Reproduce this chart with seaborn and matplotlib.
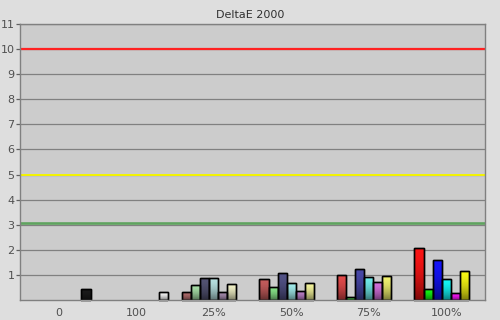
import numpy as np
import pandas as pd
import matplotlib
matplotlib.use("Agg")
import matplotlib.pyplot as plt
from matplotlib.patches import Rectangle
import seaborn as sns

# ---- data ----
groups = ["0", "100", "25%", "50%", "75%", "100%"]
series = ["Red", "Green", "Blue", "Cyan", "Magenta", "Yellow", "Gray"]
gray_values = {"0": 0.45, "100": 0.31}
red = [0.31, 0.84, 0.98, 2.07]
green = [0.60, 0.52, 0.12, 0.44]
blue = [0.88, 1.06, 1.24, 1.59]
cyan = [0.88, 0.66, 0.92, 0.84]
magenta = [0.31, 0.35, 0.72, 0.27]
yellow = [0.64, 0.66, 0.96, 1.16]
color_groups = ["25%", "50%", "75%", "100%"]
ref_lines = [10, 5, 3.05]
title = "DeltaE 2000"

rows = []
for g, v in gray_values.items():
    rows.append((g, "Gray", v))
for name, vals in zip(series[:6], [red, green, blue, cyan, magenta, yellow]):
    for g, v in zip(color_groups, vals):
        rows.append((g, name, v))
df = pd.DataFrame(rows, columns=["group", "series", "value"])

# ---- styling lookups ----
bar_colors = {
    "0": {"Gray": "#1c1c1c"},
    "100": {"Gray": "#f4f4f4"},
    "25%": ["#b06c6c", "#a8e0a8", "#545474", "#b8e2e2", "#a48aac", "#f2f2c8"],
    "50%": ["#c45c5c", "#88e488", "#525286", "#a0eaea", "#b87cc4", "#f2f29a"],
    "75%": ["#e04a4a", "#50e450", "#4848a8", "#70eaea", "#d470dc", "#f2f270"],
    "100%": ["#f81414", "#14f814", "#1414f8", "#14f8f8", "#f814f8", "#f8f814"],
}
ref_colors = ["#ff2222", "#f4f400", "#5fa35f"]
ref_widths = [1.6, 1.4, 1.9]

sns.set_theme(style="white")
plt.rcParams["font.family"] = ["DejaVu Sans"]

fig = plt.figure(figsize=(5, 3.2), dpi=100, facecolor="#dedede")
ax = fig.add_axes([0.04, 0.0625, 0.93, 0.8625])
ax.set_facecolor("#cccccc")

sns.barplot(data=df, x="group", y="value", hue="series", order=groups,
            hue_order=series, dodge=True, width=0.82, ax=ax, legend=False,
            edgecolor="black", linewidth=1.0, saturation=1)

# gradient overlay image: light at top, darker towards the bottom
t = np.linspace(0.0, 1.0, 64)
grad_img = np.zeros((64, 1, 4))
grad_img[:, 0, 3] = 0.5 * t ** 1.8

bars = [p for c in ax.containers for p in c]
for p in bars:
    h = p.get_height()
    if not np.isfinite(h) or h <= 0:
        continue
    x0 = p.get_x()
    w = p.get_width()
    xc = x0 + w / 2
    gi = int(round(xc))
    g = groups[gi]
    slot = int(round((xc - gi) / w + 3))
    slot = max(0, min(6, slot))
    name = series[slot]
    cols = bar_colors[g]
    col = cols[name] if isinstance(cols, dict) else cols[slot]
    p.set_facecolor(col)
    im = ax.imshow(grad_img, extent=[x0, x0 + w, 0, h], aspect="auto",
                   origin="upper", zorder=p.get_zorder() + 0.01,
                   interpolation="bilinear")
    im.set_clip_path(p)
    ax.add_patch(Rectangle((x0, 0), w, h, fill=False, edgecolor="black",
                           linewidth=1.0, zorder=p.get_zorder() + 0.02))

# pedestals under each group's bars
for gi, g in enumerate(groups):
    xs = [p for p in bars if np.isfinite(p.get_height()) and p.get_height() > 0
          and int(round(p.get_x() + p.get_width() / 2)) == gi]
    if not xs:
        continue
    left = min(p.get_x() for p in xs)
    right = max(p.get_x() + p.get_width() for p in xs)
    ax.add_patch(Rectangle((left, -0.09), right - left, 0.09, facecolor="#9c9c9c",
                           edgecolor="none", clip_on=False, zorder=5))

# reference lines
for v, c, lw in zip(ref_lines, ref_colors, ref_widths):
    ax.axhline(v, color=c, lw=lw, zorder=1.5)

ax.set_xlim(-0.5, len(groups) - 0.5)
ax.set_ylim(0, 11)
ax.set_yticks(range(1, 12))
ax.yaxis.grid(True, color="#808080", lw=0.9)
ax.set_axisbelow(True)
ax.set_xticks(range(len(groups)))
ax.set_xticklabels(groups)
ax.set_xticks(np.arange(-0.5, len(groups) + 0.5, 1), minor=True)
ax.tick_params(axis="x", which="major", length=0, pad=6, labelsize=8, labelcolor="#505050")
ax.tick_params(axis="x", which="minor", length=4, width=0.9, color="#404040", direction="out")
ax.tick_params(axis="y", length=3, width=0.9, color="#606060", pad=1, labelsize=8,
               labelcolor="#505050", left=True)
ax.set_xlabel("")
ax.set_ylabel("")
for s in ax.spines.values():
    s.set_color("#808080")
    s.set_linewidth(1.0)
    s.set_visible(True)

fig.text(0.5, 0.952, title, ha="center", va="center", fontsize=8, color="#303030")

fig.savefig("out.png", dpi=100, facecolor=fig.get_facecolor())
